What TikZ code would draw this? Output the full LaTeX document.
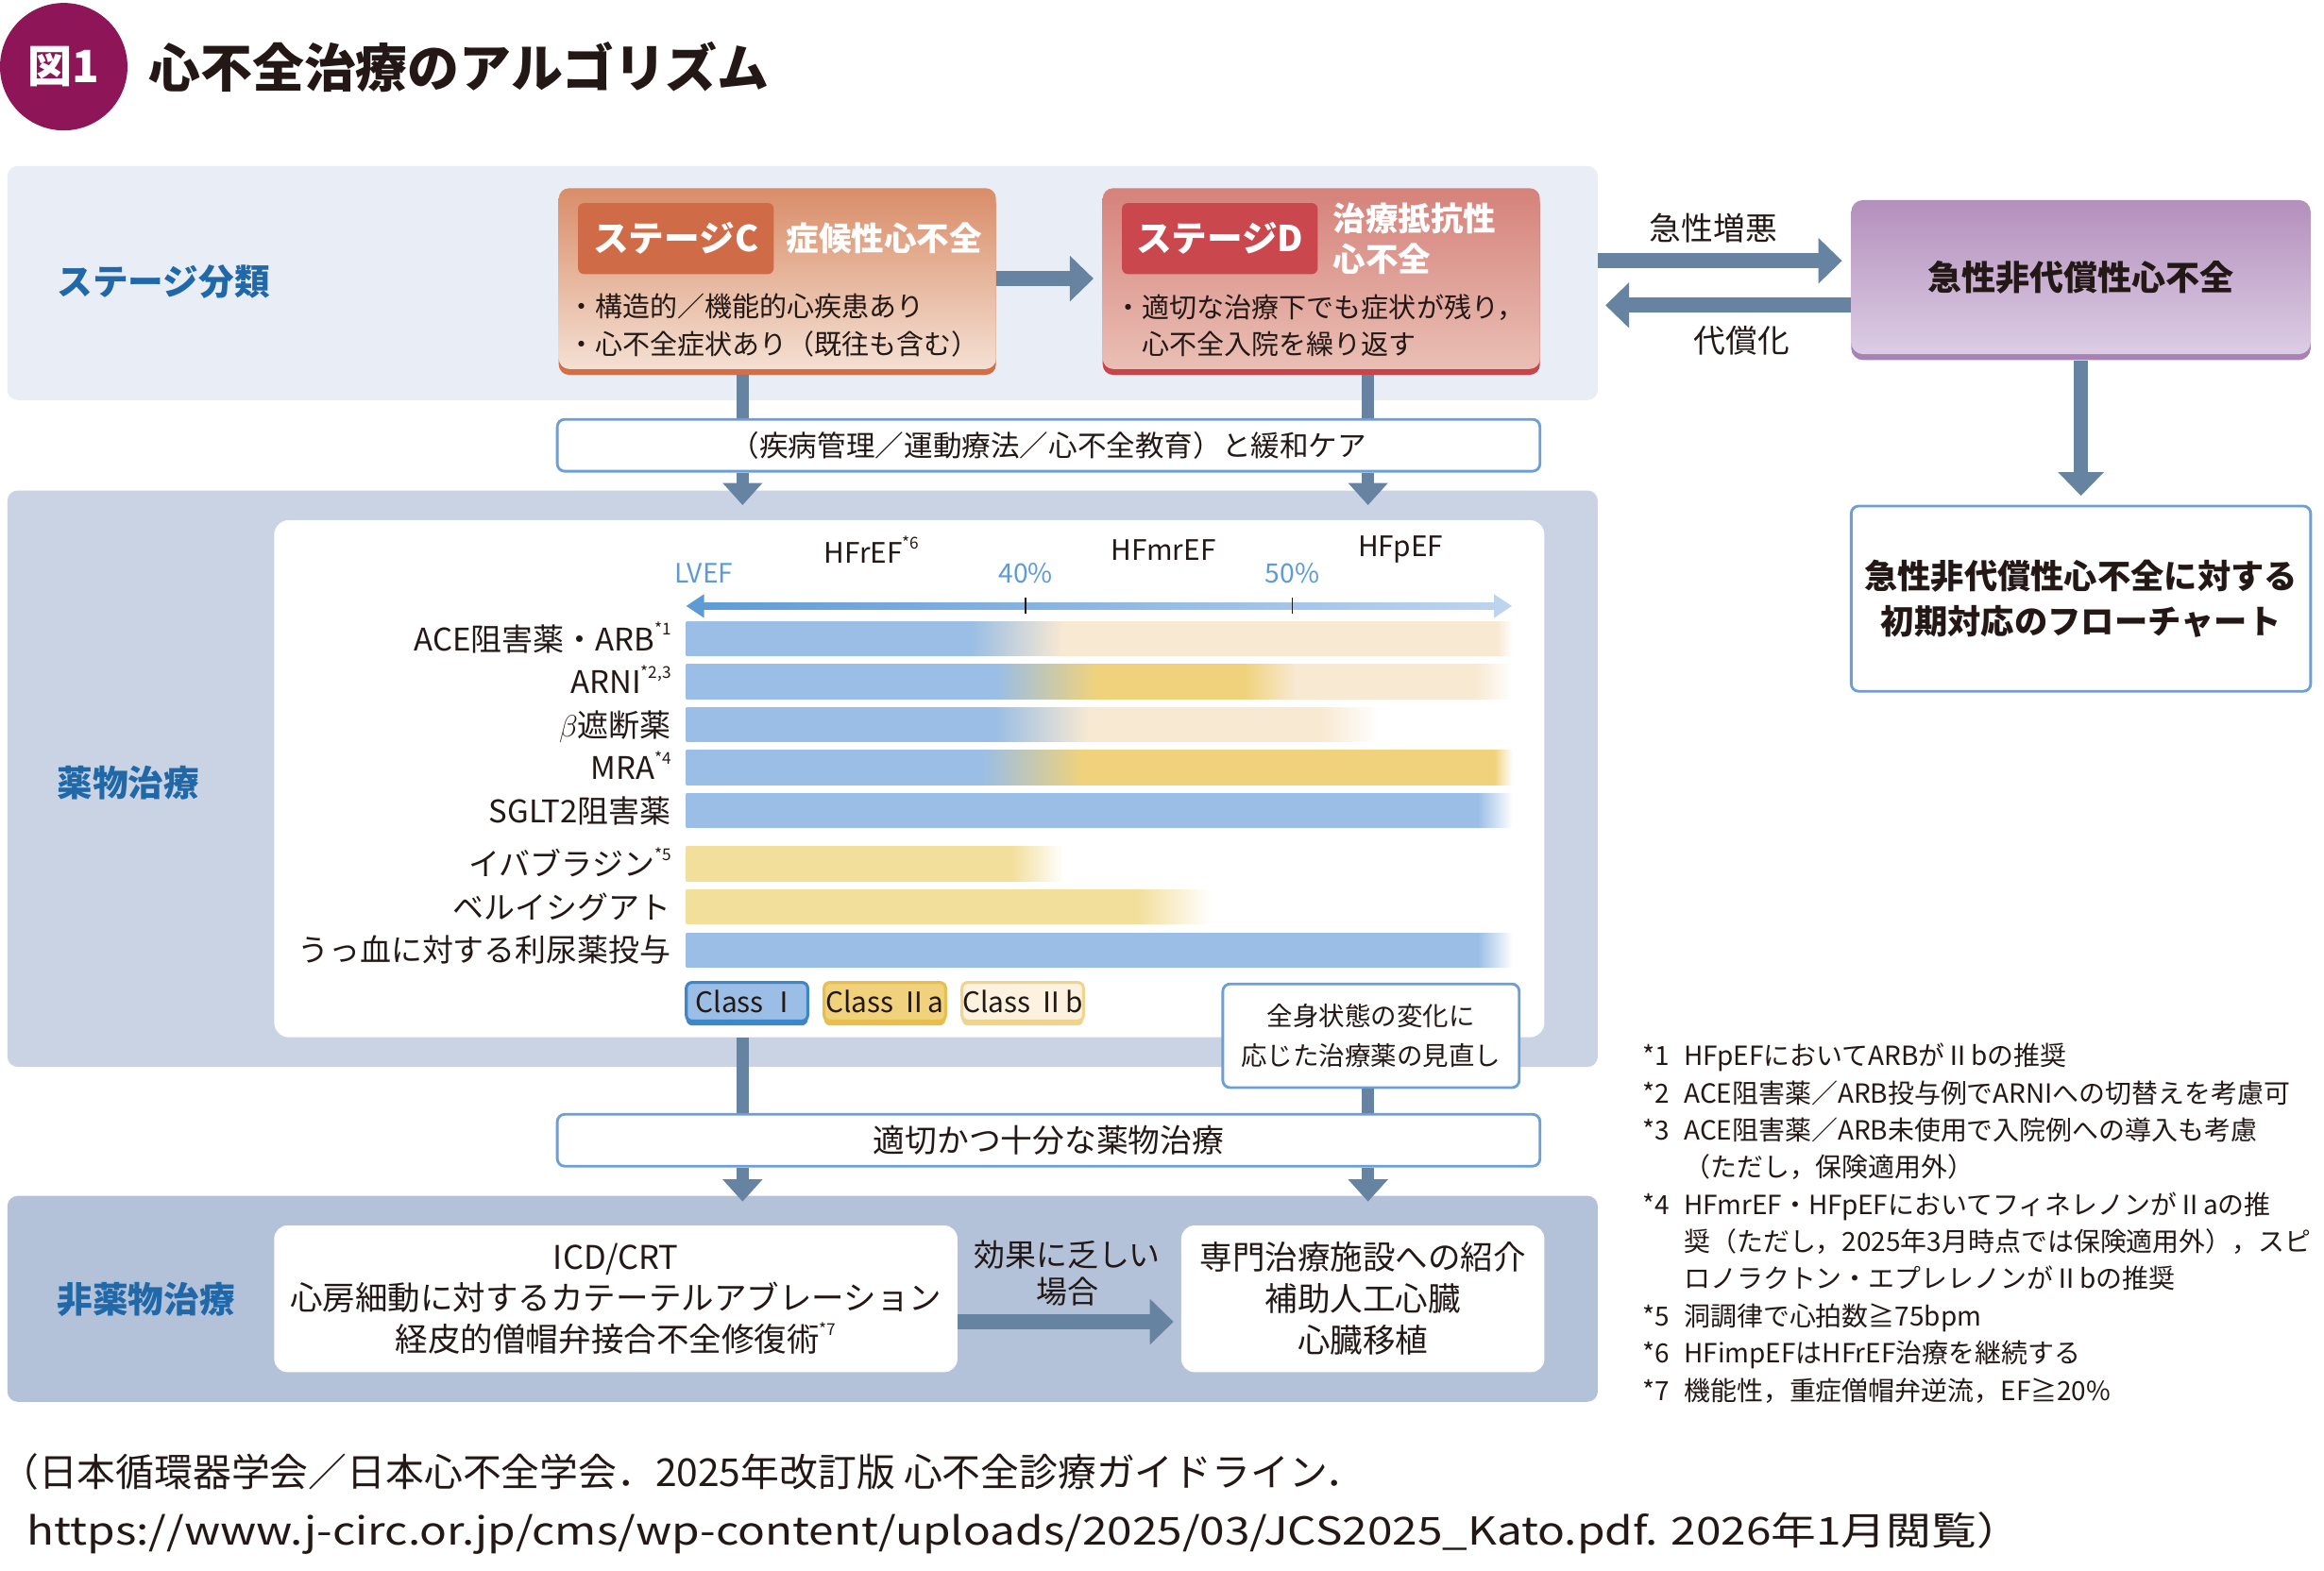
\documentclass[tikz,border=0pt]{standalone}
\usepackage{fontspec}
\setmainfont{Noto Sans CJK JP}
\newfontfamily\urlfont{Noto Sans CJK JP}[FakeStretch=1.17]
\usetikzlibrary{positioning,arrows.meta,shadows}

\definecolor{ink}{HTML}{231815}
\definecolor{figmag}{HTML}{8E1557}
\definecolor{lblblue}{HTML}{2068A8}
\definecolor{arrowgray}{HTML}{6783A2}
\definecolor{boxblue}{HTML}{6A9FD8}
\definecolor{pantop}{HTML}{E9EEF6}
\definecolor{panmid}{HTML}{C9D3E3}
\definecolor{panbot}{HTML}{B4C2D9}
\definecolor{ctop}{HTML}{D98D68}
\definecolor{cbot}{HTML}{F4E0D3}
\definecolor{cedge}{HTML}{D36E48}
\definecolor{clabel}{HTML}{D06B48}
\definecolor{dtop}{HTML}{D5827A}
\definecolor{dbot}{HTML}{EABFB5}
\definecolor{dedge}{HTML}{C8434A}
\definecolor{dlabel}{HTML}{C9474D}
\definecolor{ptop}{HTML}{B48FBC}
\definecolor{pbot}{HTML}{DCCDE4}
\definecolor{pedge}{HTML}{A982B5}
\definecolor{barblue}{HTML}{9ABEE5}
\definecolor{baryel}{HTML}{F0D27C}
\definecolor{barbeige}{HTML}{F8E9D2}
\definecolor{barlyel}{HTML}{F3DF9C}
\definecolor{axblue}{HTML}{5E9BD6}
\definecolor{axlight}{HTML}{BCD4EE}
\definecolor{efblue}{HTML}{5E9BD6}
\definecolor{clsIedge}{HTML}{3D86C9}
\definecolor{clsIIaedge}{HTML}{E8BE4E}
\definecolor{clsIIbfill}{HTML}{FCF2DF}
\definecolor{clsIIbedge}{HTML}{F0D48E}

\newcommand{\fs}[1]{\fontsize{#1}{#1}\selectfont}
\newcommand{\fsl}[2]{\fontsize{#1}{#2}\selectfont}
\newcommand{\fnm}[1]{\raisebox{0.5em}{\fs{11}#1}}
\newcommand{\seg}[5]{\shade[left color=#3,right color=#4] ({#1},{#5-11.5}) rectangle ({#2+0.5},{#5+11.5});}

\tikzset{panel/.style={rounded corners=7pt, inner sep=0pt},
	 plbl/.style={anchor=west, text=lblblue, font=\fs{24}\bfseries},
	 stbox/.style={rounded corners=7pt, inner sep=0pt, minimum width=295pt, minimum height=122pt},
	 stlbl/.style={rounded corners=4pt, inner sep=0pt, minimum width=132pt, minimum height=48pt, text=white, font=\fs{24}\bfseries},
	 sttxt/.style={anchor=west, align=left, inner sep=0pt, text=white, font=\fsl{22}{27}\bfseries},
	 bullet/.style={anchor=west, align=left, inner sep=0pt, font=\fsl{18.5}{25}},
	 wbox/.style={draw=boxblue, line width=1.8pt, fill=white, rounded corners=5pt, align=center, inner sep=0pt},
	 nbox/.style={fill=white, rounded corners=9pt, align=center, inner sep=0pt, minimum height=99pt, font=\fsl{22}{28}},
	 conn/.style={draw=arrowgray, line width=8.5pt},
	 connarrow/.style={conn, -{Triangle[width=26pt,length=15pt]}},
	 bigarrow/.style={draw=arrowgray, line width=10pt, -{Triangle[width=30pt,length=16pt]}},
	 dlbl/.style={anchor=base east, inner sep=0pt, font=\fs{21}},
	 clsbox/.style={rounded corners=4pt, line width=2pt, inner sep=0pt, minimum width=82pt, minimum height=26pt, font=\fs{19}},
	 efl/.style={inner sep=0pt, text=efblue, font=\fs{18}},
	 hfl/.style={inner sep=0pt, font=\fs{19}},
	 fnote/.style={anchor=west, align=left, inner sep=0pt, font=\fsl{17.8}{25.1}}
	 }

\begin{document}
\begin{tikzpicture}[x=1pt, y=-1pt, text=ink]
        \useasboundingbox (0,0) rectangle (1568,1060);
        \fill[white] (0,0) rectangle (1568,1060);
        % title
        \node[circle, fill=figmag, minimum size=86pt, inner sep=0pt, text=white, font=\fs{30}\bfseries] (fig) at (43,45) {図1};
        \node[anchor=west, inner sep=0pt, font=\fs{35}\bfseries] (title) at (100,45) {心不全治療のアルゴリズム};
        % panels
        \node[panel, fill=pantop, minimum width=1073pt, minimum height=158pt] (stpan) at (541.5,191) {};
        \node[panel, fill=panmid, minimum width=1073pt, minimum height=389pt] (drpan) at (541.5,525.5) {};
        \node[panel, fill=panbot, minimum width=1073pt, minimum height=139pt] (nonpan) at (541.5,876.5) {};
        \node[panel, fill=white, rounded corners=10pt, minimum width=857pt, minimum height=349pt] (drbox) at (613.5,525.5) {};
        \node[plbl] (p1) at (35,190) {ステージ分類};
        \node[plbl] (p2) at (35,528) {薬物治療};
        \node[plbl] (p3) at (35,877) {非薬物治療};
        \coordinate (lx) at (501,0);
        \coordinate (rx) at (923,0);
        % stages
        \node[stbox, top color=ctop, bottom color=cbot, general shadow={fill=cedge, shadow yshift=-4pt}] (stc) at (524.5,188) {};
        \node[stlbl, fill=clabel, anchor=north west] (lc) at ([xshift=13pt,yshift=-10pt]stc.north west) {ステージC};
        \node[sttxt, right=8pt of lc] (tc) {症候性心不全};
        \node[bullet] (bc) at (383,219.5) {・構造的／機能的心疾患あり\\・心不全症状あり（既往も含む）};
        \node[stbox, top color=dtop, bottom color=dbot, general shadow={fill=dedge, shadow yshift=-4pt}] (std) at (891.5,188) {};
        \node[stlbl, fill=dlabel, anchor=north west] (ld) at ([xshift=13pt,yshift=-10pt]std.north west) {ステージD};
        \node[sttxt, right=10pt of ld] (td) {治療抵抗性\\心不全};
        \node[bullet] (bd) at (752,219.5) {・適切な治療下でも症状が残り，\\\phantom{・}心不全入院を繰り返す};
        \draw[bigarrow, shorten >=6pt] (stc) -- (std);
        % acute
        \node[rounded corners=8pt, inner sep=0pt, minimum width=310pt, minimum height=104pt, top color=ptop, bottom color=pbot, general shadow={fill=pedge, shadow yshift=-4pt}, font=\fs{23}\bfseries] (adhf) at (1404,187) {急性非代償性心不全};
        \draw[bigarrow, shorten >=6pt] (stpan.east |- 0,176) -- (adhf.west |- 0,176);
        \draw[bigarrow, shorten >=5pt] (adhf.west |- 0,206) -- (stpan.east |- 0,206);
        \node[font=\fs{21.5}] (worse) at (1156,154) {急性増悪};
        \node[font=\fs{21.5}] (comp) at (1175,230) {代償化};
        \node[wbox, minimum width=310pt, minimum height=125pt, font=\fsl{22.5}{31}\bfseries] (flow) at (1404,404) {急性非代償性心不全に対する\\初期対応のフローチャート};
        \draw[bigarrow, shorten <=4pt, shorten >=6pt] (adhf) -- (flow);
        % care
        \node[wbox, minimum width=663pt, minimum height=35pt, font=\fs{19.5}] (care) at (707.5,300.5) {（疾病管理／運動療法／心不全教育）と緩和ケア};
        \draw[conn, shorten <=4pt] (stc.south -| lx) -- (care.north -| lx);
        \draw[conn, shorten <=4pt] (std.south -| rx) -- (care.north -| rx);
        \draw[connarrow] (care.south -| lx) -- ++(0,22);
        \draw[connarrow] (care.south -| rx) -- ++(0,22);
        % LVEF axis
        \shade[left color=axblue, right color=axlight] (472,407) rectangle (1010,411);
        \fill[axblue] (463,409) -- (475,401) -- (475,417) -- cycle;
        \fill[axlight] (1020,409) -- (1008,401) -- (1008,417) -- cycle;
        \draw[ink, line width=0.8pt] (692,403) -- (692,414);
        \draw[ink, line width=0.8pt] (872,403) -- (872,414);
        \node[efl] (ef0) at (475,387) {LVEF};
        \node[efl] (ef40) at (692,387) {40\%};
        \node[efl] (ef50) at (872,387) {50\%};
        \node[hfl] (hfr) at (588,371) {HFrEF\fnm{*6}};
        \node[hfl] (hfmr) at (785,371) {HFmrEF};
        \node[hfl] (hfp) at (945,371) {HFpEF};
        % bars
        \seg{463}{655}{barblue}{barblue}{431}
        \seg{655}{717}{barblue}{barbeige}{431}
        \seg{717}{1010}{barbeige}{barbeige}{431}
        \seg{1010}{1020}{barbeige}{white}{431}
        \seg{463}{672}{barblue}{barblue}{460}
        \seg{672}{739}{barblue}{baryel}{460}
        \seg{739}{840}{baryel}{baryel}{460}
        \seg{840}{874}{baryel}{barbeige}{460}
        \seg{874}{995}{barbeige}{barbeige}{460}
        \seg{995}{1020}{barbeige}{white}{460}
        \seg{463}{671}{barblue}{barblue}{489}
        \seg{671}{734}{barblue}{barbeige}{489}
        \seg{734}{891}{barbeige}{barbeige}{489}
        \seg{891}{930}{barbeige}{white}{489}
        \seg{463}{662}{barblue}{barblue}{518}
        \seg{662}{730}{barblue}{baryel}{518}
        \seg{730}{1008}{baryel}{baryel}{518}
        \seg{1008}{1020}{baryel}{white}{518}
        \seg{463}{997}{barblue}{barblue}{547}
        \seg{997}{1020}{barblue}{white}{547}
        \seg{463}{683}{barlyel}{barlyel}{583}
        \seg{683}{717}{barlyel}{white}{583}
        \seg{463}{767}{barlyel}{barlyel}{612}
        \seg{767}{817}{barlyel}{white}{612}
        \seg{463}{997}{barblue}{barblue}{641}
        \seg{997}{1020}{barblue}{white}{641}
        \node[dlbl] (d1) at (453,439) {ACE阻害薬・ARB\fnm{*1}};
        \node[dlbl] (d2) at (453,468) {ARNI\fnm{*2,3}};
        \node[dlbl] (d3) at (453,497) {$\beta$遮断薬};
        \node[dlbl] (d4) at (453,526) {MRA\fnm{*4}};
        \node[dlbl] (d5) at (453,555) {SGLT2阻害薬};
        \node[dlbl] (d6) at (453,591) {イバブラジン\fnm{*5}};
        \node[dlbl] (d7) at (453,620) {ベルイシグアト};
        \node[dlbl] (d8) at (453,649) {うっ血に対する利尿薬投与};
        % classes
        \node[clsbox, fill=barblue, draw=clsIedge, general shadow={fill=clsIedge, shadow yshift=-3pt}] (cI) at (504,676) {Class Ⅰ};
        \node[clsbox, fill=baryel, draw=clsIIaedge, general shadow={fill=clsIIaedge, shadow yshift=-3pt}, right=9pt of cI] (cIIa) {Class Ⅱa};
        \node[clsbox, fill=clsIIbfill, draw=clsIIbedge, general shadow={fill=clsIIbedge, shadow yshift=-3pt}, right=9pt of cIIa] (cIIb) {Class Ⅱb};
        % review and adequate
        \node[wbox, minimum width=200pt, minimum height=70pt, font=\fsl{17.5}{27}] (rev) at (925,699) {全身状態の変化に\\応じた治療薬の見直し};
        \node[wbox, minimum width=663pt, minimum height=35pt, font=\fs{21.5}] (adq) at (707.5,769.5) {適切かつ十分な薬物治療};
        \draw[conn] (drbox.south -| lx) -- (adq.north -| lx);
        \draw[conn] (rev.south -| rx) -- (adq.north -| rx);
        \draw[connarrow] (adq.south -| lx) -- ++(0,23);
        \draw[connarrow] (adq.south -| rx) -- ++(0,23);
        % non-drug
        \node[nbox, minimum width=461pt] (dev) at (415.5,876.5) {ICD/CRT\\心房細動に対するカテーテルアブレーション\\経皮的僧帽弁接合不全修復術\fnm{*7}};
        \node[nbox, minimum width=245pt] (refr) at (919.5,876.5) {専門治療施設への紹介\\補助人工心臓\\心臓移植};
        \draw[bigarrow, shorten >=5pt] (dev.east |- 0,892) -- (refr.west |- 0,892);
        \node[font=\fsl{21}{25}, align=center] (poor) at (720,859) {効果に乏しい\\場合};
        % footnotes
        \node[fnote] (fnk) at (1108,827) {\strut*1\\*2\\*3\\\mbox{}\\*4\\\mbox{}\\\mbox{}\\*5\\*6\\*7\strut};
        \node[fnote] (fnt) at (1136,827) {\strut HFpEFにおいてARBがⅡbの推奨\\ACE阻害薬／ARB投与例でARNIへの切替えを考慮可\\ACE阻害薬／ARB未使用で入院例への導入も考慮\\（ただし，保険適用外）\\HFmrEF・HFpEFにおいてフィネレノンがⅡaの推\\奨（ただし，2025年3月時点では保険適用外），スピ\\ロノラクトン・エプレレノンがⅡbの推奨\\洞調律で心拍数≧75bpm\\HFimpEFはHFrEF治療を継続する\\機能性，重症僧帽弁逆流，EF≧20\%\strut};
        % citation
        \node[anchor=west, align=left, inner sep=0pt, font=\fsl{26}{40}] (cite) at (0,1015) {（日本循環器学会／日本心不全学会．2025年改訂版 心不全診療ガイドライン．\\\hspace*{18pt}{\urlfont https://www.j-circ.or.jp/cms/wp-content/uploads/2025/03/JCS2025\_Kato.pdf. 2026年1月閲覧）}};
\end{tikzpicture}
\end{document}
